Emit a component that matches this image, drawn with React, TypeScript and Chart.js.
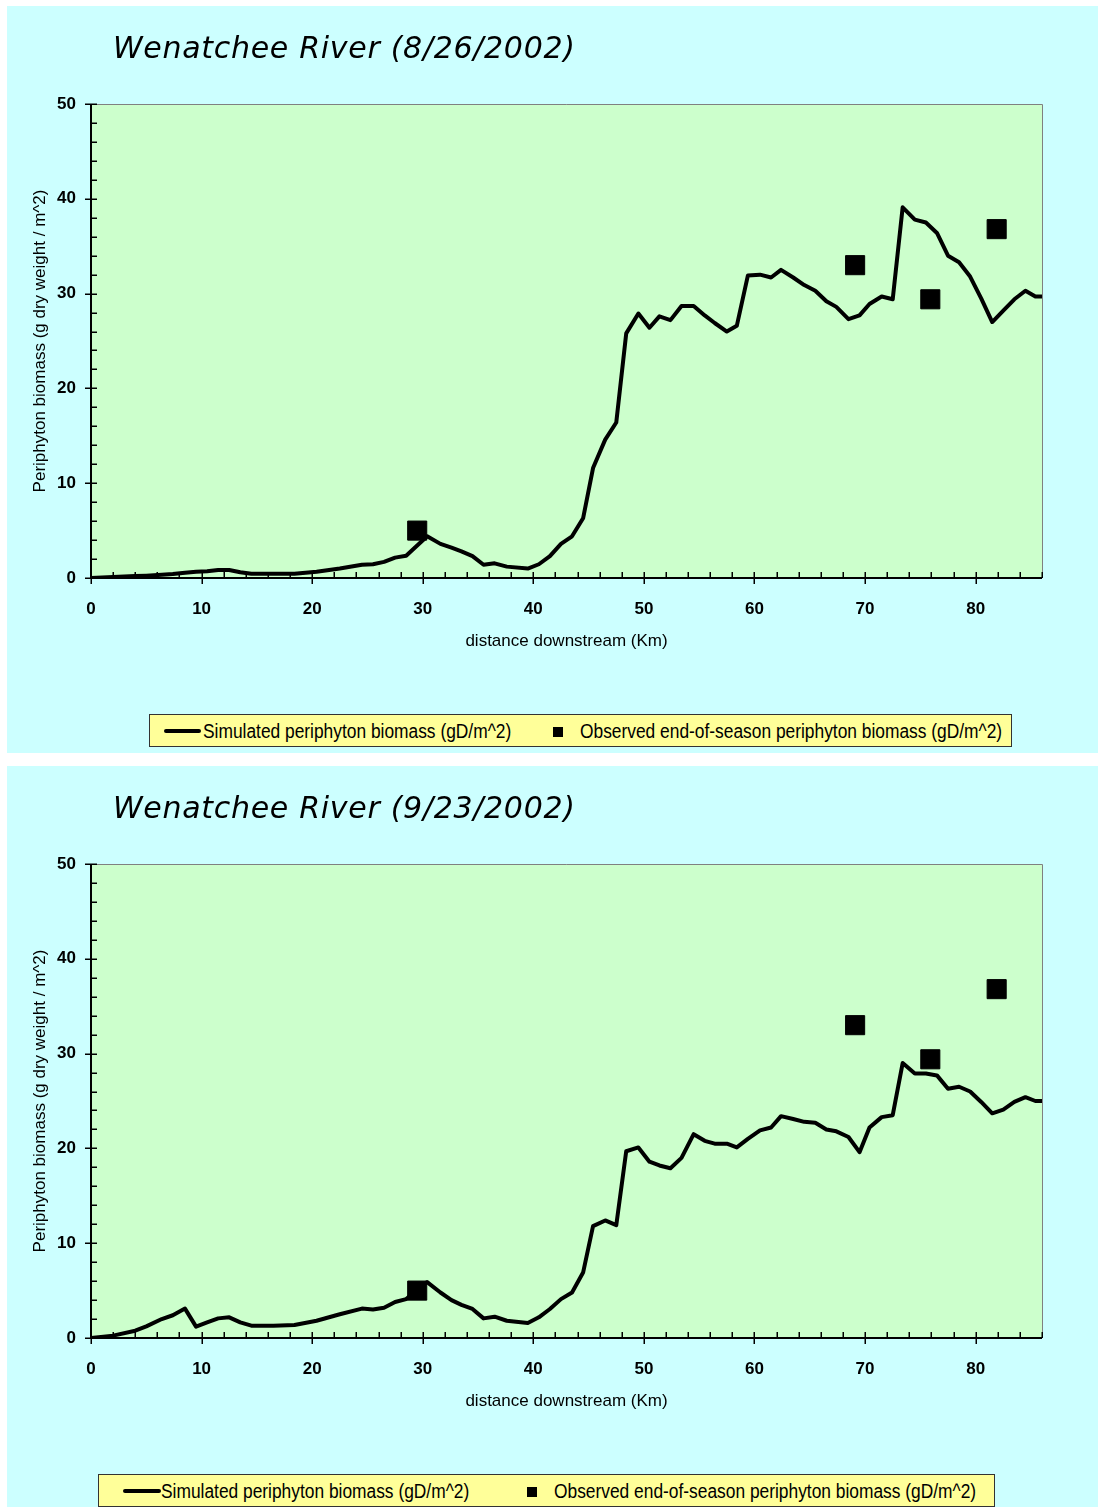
import React, { useEffect, useRef } from 'react';
import { Chart, registerables } from 'chart.js';

Chart.register(...registerables);

// Distance downstream of each model segment (km)
const distanceKm = [
  0, 2, 4, 5, 6.4, 7.4, 8.5, 9.5, 10.5, 11.5,
  12.5, 13.5, 14.5, 16.5, 18.4, 20.4, 22.5, 24.5, 25.5, 26.5,
  27.5, 28.5, 30.4, 31.6, 32.6, 33.5, 34.5, 35.5, 36.5, 37.6,
  39.5, 40.5, 41.5, 42.5, 43.5, 44.5, 45.4, 46.5, 47.5, 48.4,
  49.5, 50.5, 51.4, 52.4, 53.4, 54.5, 55.5, 56.4, 57.5, 58.4,
  59.4, 60.5, 61.5, 62.4, 63.5, 64.5, 65.5, 66.5, 67.4, 68.5,
  69.5, 70.4, 71.5, 72.5, 73.4, 74.5, 75.5, 76.5, 77.5, 78.5,
  79.5, 80.5, 81.5, 82.5, 83.5, 84.5, 85.4, 86,
];

// Simulated periphyton biomass (gD/m^2), 8/26/2002
const simulatedAug26 = [
  0, 0.1, 0.2, 0.25, 0.35, 0.42, 0.55, 0.65, 0.72, 0.85,
  0.85, 0.6, 0.45, 0.45, 0.45, 0.65, 1.0, 1.4, 1.45, 1.7,
  2.15, 2.35, 4.4, 3.6, 3.2, 2.8, 2.3, 1.4, 1.55, 1.2,
  1.0, 1.45, 2.3, 3.6, 4.4, 6.3, 11.6, 14.6, 16.4, 25.8,
  27.9, 26.4, 27.6, 27.2, 28.7, 28.7, 27.7, 26.9, 26.0, 26.6,
  31.9, 32.0, 31.7, 32.5, 31.7, 30.9, 30.3, 29.2, 28.6, 27.3,
  27.7, 28.9, 29.7, 29.4, 39.1, 37.8, 37.5, 36.4, 34.0, 33.3,
  31.8, 29.5, 27.0, 28.2, 29.4, 30.3, 29.7, 29.7,
];

// Simulated periphyton biomass (gD/m^2), 9/23/2002
const simulatedSep23 = [
  0, 0.25, 0.77, 1.23, 2.0, 2.4, 3.1, 1.2, 1.65, 2.07,
  2.18, 1.65, 1.3, 1.3, 1.37, 1.82, 2.5, 3.1, 3.0, 3.2,
  3.8, 4.1, 5.9, 4.8, 4.0, 3.5, 3.06, 2.07, 2.25, 1.82,
  1.58, 2.18, 3.06, 4.1, 4.8, 6.9, 11.8, 12.4, 11.9, 19.7,
  20.1, 18.6, 18.2, 17.9, 19.0, 21.5, 20.8, 20.5, 20.5, 20.1,
  21.0, 21.9, 22.2, 23.4, 23.1, 22.8, 22.7, 22.0, 21.8, 21.2,
  19.6, 22.2, 23.3, 23.5, 29.0, 27.9, 27.9, 27.7, 26.3, 26.5,
  26.0, 24.9, 23.7, 24.1, 24.9, 25.4, 25.0, 25.0,
];

// Observed end-of-season periphyton biomass
const observedKm = [29.5, 69.1, 75.9, 81.9];
const observedBiomass = [5.0, 33.0, 29.4, 36.8];

const xTickValues = [0, 10, 20, 30, 40, 50, 60, 70, 80];
const yTickValues = [0, 10, 20, 30, 40, 50];
const X_MIN = 0;
const X_MAX = 86;
const Y_MIN = 0;
const Y_MAX = 50;
const MINOR_STEP = 2;

const PANEL_COLOR = '#CCFFFF';
const PLOT_COLOR = '#CCFFCC';
const LEGEND_COLOR = '#FFFF99';
const SANS = '"Liberation Sans", Arial, sans-serif';

const CANVAS_W = 1098;
const CANVAS_H = 680;

// Plot background, gray frame, black axes and the tick marks
const framePlugin = {
  id: 'riverFrame',
  beforeDraw(chart: any) {
    const { ctx, chartArea: a } = chart;
    ctx.save();
    ctx.fillStyle = PLOT_COLOR;
    ctx.fillRect(a.left, a.top, a.right - a.left, a.bottom - a.top);
    ctx.restore();
  },
  afterDraw(chart: any) {
    const { ctx, chartArea: a, scales } = chart;
    const xs = scales.x;
    const ys = scales.y;
    ctx.save();
    ctx.strokeStyle = '#808080';
    ctx.lineWidth = 1;
    ctx.beginPath();
    ctx.moveTo(a.left, a.top + 0.5);
    ctx.lineTo(a.right + 0.5, a.top + 0.5);
    ctx.lineTo(a.right + 0.5, a.bottom);
    ctx.stroke();

    ctx.strokeStyle = '#000';
    ctx.lineWidth = 2;
    ctx.beginPath();
    ctx.moveTo(a.left, a.top);
    ctx.lineTo(a.left, a.bottom);
    ctx.lineTo(a.right, a.bottom);
    ctx.stroke();

    ctx.lineWidth = 1.5;
    for (let v = X_MIN; v <= X_MAX; v += MINOR_STEP) {
      const px = Math.round(xs.getPixelForValue(v)) + 0.25;
      const major = xTickValues.includes(v);
      ctx.beginPath();
      ctx.moveTo(px, a.bottom - 6);
      ctx.lineTo(px, a.bottom + (major ? 6 : 0));
      ctx.stroke();
    }
    for (let v = Y_MIN; v <= Y_MAX; v += MINOR_STEP) {
      const py = Math.round(ys.getPixelForValue(v)) + 0.25;
      const major = yTickValues.includes(v);
      ctx.beginPath();
      ctx.moveTo(a.left - (major ? 6 : 0), py);
      ctx.lineTo(a.left + 6, py);
      ctx.stroke();
    }
    ctx.restore();
  },
};

type LegendLayout = {
  left: number;
  top: number;
  width: number;
  lineLeft: number;
  lineWidth: number;
  textLeft: number;
  squareCenter: number;
  text2Left: number;
};

type PanelProps = {
  title: string;
  simulated: number[];
  panelTop: number;
  panelHeight: number;
  legend: LegendLayout;
};

function BiomassPanel({ title, simulated, panelTop, panelHeight, legend }: PanelProps) {
  const canvasRef = useRef<HTMLCanvasElement>(null);
  const canvasTop = panelTop - 6;

  useEffect(() => {
    if (!canvasRef.current) return;
    const chart = new Chart(canvasRef.current, {
      type: 'line',
      data: {
        datasets: [
          {
            type: 'scatter',
            label: 'Observed end-of-season periphyton biomass (gD/m^2)',
            data: observedKm.map((x, i) => ({ x, y: observedBiomass[i] })),
            pointStyle: 'rect',
            pointRadius: 13.5,
            pointBorderWidth: 1,
            backgroundColor: '#000',
            borderColor: '#000',
            order: 0,
          },
          {
            type: 'line',
            label: 'Simulated periphyton biomass (gD/m^2)',
            data: distanceKm.map((x, i) => ({ x, y: simulated[i] })),
            borderColor: '#000',
            borderWidth: 4,
            borderJoinStyle: 'round',
            borderCapStyle: 'round',
            pointRadius: 0,
            tension: 0,
            fill: false,
            order: 1,
          },
        ],
      } as any,
      options: {
        responsive: false,
        animation: false,
        events: [],
        devicePixelRatio: 1,
        layout: { padding: { left: 20, right: 56, top: 104, bottom: 22 } },
        plugins: {
          legend: { display: false },
          tooltip: { enabled: false },
          title: { display: false },
        },
        scales: {
          x: {
            type: 'linear',
            min: X_MIN,
            max: X_MAX,
            afterBuildTicks: (s: any) => {
              s.ticks = xTickValues.map((value) => ({ value }));
            },
            afterFit: (s: any) => {
              s.height = 80;
            },
            grid: { display: false },
            border: { display: false },
            ticks: {
              padding: 13,
              color: '#000',
              maxRotation: 0,
              autoSkip: false,
              font: { family: SANS, size: 17, weight: 'bold' },
            },
            title: {
              display: true,
              text: 'distance downstream (Km)',
              color: '#000',
              font: { family: SANS, size: 17 },
              padding: { top: 0, bottom: 6 },
            },
          },
          y: {
            type: 'linear',
            min: Y_MIN,
            max: Y_MAX,
            afterBuildTicks: (s: any) => {
              s.ticks = yTickValues.map((value) => ({ value }));
            },
            afterFit: (s: any) => {
              s.width = 71;
            },
            grid: { display: false },
            border: { display: false },
            ticks: {
              padding: 7,
              color: '#000',
              font: { family: SANS, size: 17, weight: 'bold' },
            },
            title: {
              display: true,
              text: 'Periphyton biomass (g dry weight / m^2)',
              color: '#000',
              font: { family: SANS, size: 17 },
              padding: { top: 10, bottom: 0 },
            },
          },
        },
      } as any,
      plugins: [framePlugin],
    });
    return () => chart.destroy();
  }, [simulated]);

  const legendText: React.CSSProperties = {
    position: 'absolute',
    top: 0,
    height: 33,
    lineHeight: '33px',
    fontFamily: SANS,
    fontSize: 20,
    color: '#000',
    whiteSpace: 'nowrap',
    transform: 'scaleX(0.868)',
    transformOrigin: 'left center',
  };

  return (
    <>
      <div
        style={{
          position: 'absolute',
          left: 7,
          top: panelTop,
          width: CANVAS_W - 7,
          height: panelHeight,
          background: PANEL_COLOR,
        }}
      />
      <canvas
        ref={canvasRef}
        width={CANVAS_W}
        height={CANVAS_H}
        style={{ position: 'absolute', left: 0, top: canvasTop, width: CANVAS_W, height: CANVAS_H }}
      />
      <div
        style={{
          position: 'absolute',
          left: 113,
          top: canvasTop + 33,
          fontFamily: '"DejaVu Sans", Verdana, sans-serif',
          fontStyle: 'italic',
          fontSize: 30,
          lineHeight: '30px',
          letterSpacing: '0.7px',
          color: '#000',
          whiteSpace: 'nowrap',
        }}
      >
        {title}
      </div>
      <div
        style={{
          position: 'absolute',
          left: legend.left,
          top: legend.top,
          width: legend.width,
          height: 33,
          boxSizing: 'border-box',
          background: LEGEND_COLOR,
          border: '1px solid #333',
          overflow: 'hidden',
        }}
      >
        <div
          style={{
            position: 'absolute',
            left: legend.lineLeft,
            top: 14,
            width: legend.lineWidth,
            height: 4,
            borderRadius: 2,
            background: '#000',
          }}
        />
        <div style={{ ...legendText, left: legend.textLeft }}>
          Simulated periphyton biomass (gD/m^2)
        </div>
        <div
          style={{
            position: 'absolute',
            left: legend.squareCenter - 5,
            top: 12,
            width: 10,
            height: 10,
            background: '#000',
          }}
        />
        <div style={{ ...legendText, left: legend.text2Left }}>
          Observed end-of-season periphyton biomass (gD/m^2)
        </div>
      </div>
    </>
  );
}

export default function App() {
  return (
    <div
      style={{
        position: 'absolute',
        left: 0,
        top: 0,
        width: 1098,
        height: 1507,
        background: '#FFFFFF',
        overflow: 'hidden',
      }}
    >
      <BiomassPanel
        title="Wenatchee River (8/26/2002)"
        simulated={simulatedAug26}
        panelTop={6}
        panelHeight={747}
        legend={{
          left: 149,
          top: 714,
          width: 863,
          lineLeft: 14,
          lineWidth: 37,
          textLeft: 53,
          squareCenter: 408,
          text2Left: 430,
        }}
      />
      <BiomassPanel
        title="Wenatchee River (9/23/2002)"
        simulated={simulatedSep23}
        panelTop={766}
        panelHeight={741}
        legend={{
          left: 98,
          top: 1474,
          width: 897,
          lineLeft: 24,
          lineWidth: 38,
          textLeft: 62,
          squareCenter: 433,
          text2Left: 455,
        }}
      />
    </div>
  );
}
